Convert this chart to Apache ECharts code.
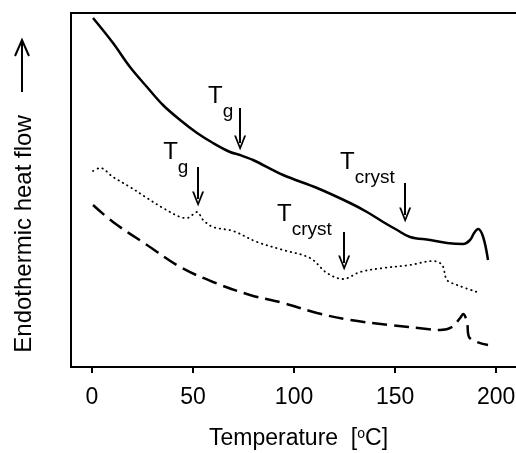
<!DOCTYPE html>
<html>
<head>
<meta charset="utf-8">
<script src="https://cdn.jsdelivr.net/npm/echarts@6/dist/echarts.min.js"></script>
<style>
  html, body { margin: 0; padding: 0; background: #fff; overflow: hidden; }
  #chart { width: 516px; height: 453px; }
</style>
</head>
<body>
<div id="chart"></div>
<script>
// DSC traces: temperature (°C) vs endothermic heat flow (arbitrary units)
const solidT = [0.5, 10.4, 18.8, 27.2, 35.1, 43.6, 52.0, 59.9, 68.3, 73.3, 79.7, 94.6, 111.4, 127.7, 136.1, 144.1, 151.0, 157.4, 167.3, 175.7, 183.7, 187.1, 189.1, 191.1, 193.6, 196.0];
const solidQ = [349, 324, 300, 280, 262, 247, 234, 224, 215, 212, 207, 192, 179, 164, 155, 145, 137, 130, 127, 124, 123, 127, 134, 138, 130, 107];

const dottedT = [0.5, 4.0, 10.4, 18.8, 27.2, 35.1, 43.6, 47.0, 52.0, 55.0, 59.9, 69.8, 81.7, 94.6, 107.9, 116.3, 124.3, 132.7, 144.1, 157.4, 168.8, 173.3, 175.7, 180.7, 190.6];
const dottedQ = [196, 199, 190, 180, 169, 159, 150, 149, 155, 147, 140, 136, 125, 117, 109, 94, 88, 95, 99, 102, 106, 102, 87, 82, 75];

const dashedT = [0.5, 10.4, 27.2, 43.6, 59.9, 78.2, 94.6, 111.4, 127.7, 147.5, 165.8, 172.3, 178.2, 182.2, 183.7, 185.6, 186.6, 190.6, 196.0];
const dashedQ = [162, 145, 122, 100, 85, 72, 64, 54, 47, 42, 38, 37, 40, 49, 53, 45, 30, 25, 22];

const xTicks = [0, 50, 100, 150, 200];

// Transition markers: arrow x, arrow top, arrow tip, label left, label top
const solidMarks = [
  { sub: 'g',     x: 73.3,  top: 259, tip: 224, lx: 57.4,  ly: 283 },
  { sub: 'cryst', x: 155.0, top: 184, tip: 152, lx: 122.8, ly: 217 }
];
const dottedMarks = [
  { sub: 'g',     x: 52.5,  top: 200, tip: 168, lx: 35.2, ly: 227 },
  { sub: 'cryst', x: 124.8, top: 135, tip: 104, lx: 91.6, ly: 165 }
];

const FONT = 'Liberation Sans, Arial, Helvetica, sans-serif';
const arrowHead = 'path://M50,0 L100,100 L84,100 L50,30 L16,100 L0,100 Z';

const zip = (xs, ys) => xs.map((x, i) => [x, ys[i]]);

function markLines(marks) {
  return {
    silent: true,
    symbol: ['none', arrowHead],
    symbolSize: [12, 15],
    lineStyle: { color: '#000', width: 2, type: 'solid' },
    label: { show: false },
    animation: false,
    data: marks.map(m => [{ coord: [m.x, m.top] }, { coord: [m.x, m.tip] }])
  };
}

function markPoints(marks) {
  return {
    silent: true,
    symbol: 'circle',
    symbolSize: 1,
    itemStyle: { color: 'rgba(0,0,0,0)' },
    animation: false,
    label: {
      show: true,
      position: 'inside',
      align: 'left',
      verticalAlign: 'top',
      color: '#000',
      fontFamily: FONT,
      rich: {
        t: { fontSize: 24, fontFamily: FONT, color: '#000', verticalAlign: 'top' },
        s: { fontSize: 19, fontFamily: FONT, color: '#000', verticalAlign: 'bottom', lineHeight: 37 }
      }
    },
    data: marks.map(m => ({
      coord: [m.lx, m.ly],
      label: { formatter: '{t|T}{s|' + m.sub + '}' }
    }))
  };
}

const chart = echarts.init(document.getElementById('chart'), null, { renderer: 'canvas' });

chart.setOption({
  animation: false,
  backgroundColor: '#fff',
  grid: {
    left: 71, top: 13, width: 455, height: 354,
    outerBoundsMode: 'none',
    containLabel: false,
    show: true, borderColor: '#000', borderWidth: 2, backgroundColor: 'transparent'
  },
  xAxis: {
    type: 'value',
    min: -10.4,
    max: 214.8,
    axisLine: { show: true, onZero: false, lineStyle: { color: '#000', width: 2 } },
    axisTick: { show: true, customValues: xTicks, length: 6, lineStyle: { color: '#000', width: 2 } },
    axisLabel: { customValues: xTicks, color: '#000', fontSize: 23, fontFamily: FONT, margin: 19 },
    splitLine: { show: false },
    name: 'Temperature  [{sup|o}C]',
    nameLocation: 'middle',
    nameGap: 60,
    nameTextStyle: {
      color: '#000', fontSize: 23, fontFamily: FONT,
      rich: {
        sup: { fontSize: 14, fontFamily: FONT, color: '#000', verticalAlign: 'top', lineHeight: 14 }
      }
    }
  },
  yAxis: {
    type: 'value',
    min: 0,
    max: 354,
    axisLine: { show: true, onZero: false, lineStyle: { color: '#000', width: 2 } },
    axisTick: { show: false },
    axisLabel: { show: false },
    splitLine: { show: false },
    name: 'Endothermic heat flow',
    nameLocation: 'middle',
    nameRotate: 90,
    nameGap: 35,
    nameTextStyle: { color: '#000', fontSize: 24, fontFamily: FONT, padding: [0, 88, 0, 0] }
  },
  graphic: [
    {
      type: 'group',
      silent: true,
      children: [
        { type: 'line', shape: { x1: 22, y1: 92, x2: 22, y2: 41 }, style: { stroke: '#000', lineWidth: 2 } },
        { type: 'polyline', shape: { points: [[15, 56], [22, 40], [29, 56]] }, style: { stroke: '#000', lineWidth: 2, fill: null } }
      ]
    }
  ],
  series: [
    {
      name: 'solid',
      type: 'line',
      data: zip(solidT, solidQ),
      showSymbol: false,
      smooth: 0.35,
      lineStyle: { color: '#000', width: 2.5, type: 'solid' },
      markLine: markLines(solidMarks),
      markPoint: markPoints(solidMarks)
    },
    {
      name: 'dotted',
      type: 'line',
      data: zip(dottedT, dottedQ),
      showSymbol: false,
      smooth: 0.35,
      lineStyle: { color: '#000', width: 1.8, type: [0.5, 4.5], cap: 'round' },
      markLine: markLines(dottedMarks),
      markPoint: markPoints(dottedMarks)
    },
    {
      name: 'dashed',
      type: 'line',
      data: zip(dashedT, dashedQ),
      showSymbol: false,
      smooth: 0.35,
      lineStyle: { color: '#000', width: 2.5, type: [15, 7] }
    }
  ]
});
</script>
</body>
</html>
